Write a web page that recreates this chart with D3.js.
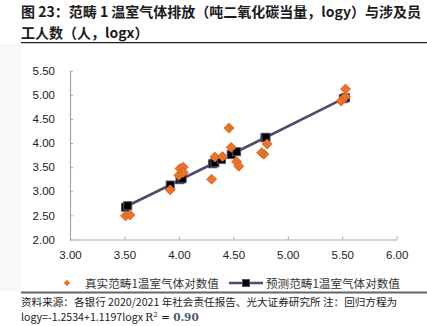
<!DOCTYPE html>
<html><head><meta charset="utf-8">
<script src="https://cdn.jsdelivr.net/npm/d3@7"></script>
<style>html,body{margin:0;padding:0;background:#fff;}svg{display:block;}</style>
</head><body>
<script>
// ---- data ----
const xTicks = [3.00, 3.50, 4.00, 4.50, 5.00, 5.50, 6.00];
const yTicks = [2.00, 2.50, 3.00, 3.50, 4.00, 4.50, 5.00, 5.50];
const actualX = [3.51, 3.55, 3.92, 4.00, 4.01, 4.04, 4.04, 4.30, 4.33, 4.40, 4.46, 4.48, 4.53, 4.55, 4.81, 4.78, 4.76, 5.49, 5.53, 5.53];
const actualY = [2.49, 2.51, 3.03, 3.33, 3.47, 3.50, 3.39, 3.25, 3.71, 3.72, 4.31, 3.91, 3.61, 3.52, 3.98, 3.77, 3.80, 4.87, 4.96, 5.12];
const predX = [3.51, 3.53, 3.92, 4.01, 4.03, 4.31, 4.33, 4.39, 4.48, 4.53, 4.79, 4.80, 5.51, 5.53];
const predY = [2.67, 2.70, 3.13, 3.24, 3.26, 3.57, 3.59, 3.66, 3.76, 3.82, 4.11, 4.12, 4.92, 4.94];
const titleLines = ["图 23：范畴 1 温室气体排放（吨二氧化碳当量，logy）与涉及员", "工人数（人，logx）"];
const legendLabels = ["真实范畴1温室气体对数值", "预测范畴1温室气体对数值"];
const sourceLine1 = "资料来源：各银行 2020/2021 年社会责任报告、光大证券研究所 注：回归方程为";
const sourceLine2 = "logy=-1.2534+1.1197logx ";

const W = 427, H = 326;
const svg = d3.select("body").append("svg").attr("width", W).attr("height", H);
const cjk = "'Noto Sans CJK SC','Noto Sans',sans-serif";
const latin = "'Liberation Sans',Arial,sans-serif";
const serif = "'DejaVu Serif','Liberation Serif',serif";

svg.append("rect").attr("x", 0).attr("y", 44).attr("width", 21).attr("height", 247).attr("fill", "#f8f8f8");

// title
svg.selectAll("text.title").data(titleLines).enter().append("text")
  .attr("x", 21).attr("y", (d, i) => 17 + i * 21)
  .attr("font-family", cjk).attr("font-weight", "bold").attr("font-size", 14)
  .attr("fill", "#1a1a1a").text(d => d);
svg.append("line").attr("x1", 21).attr("x2", 427).attr("y1", 42.7).attr("y2", 42.7)
  .attr("stroke", "#222").attr("stroke-width", 1.3);

// scales
const x = d3.scaleLinear().domain([3, 6]).range([70, 396.7]);
const y = d3.scaleLinear().domain([2, 5.5]).range([239.5, 70.7]);

// axes
const xAxis = svg.append("g").attr("transform", `translate(0,${y(2)})`)
  .call(d3.axisBottom(x).tickValues(xTicks).tickSizeInner(-3).tickSizeOuter(0).tickFormat(d3.format(".2f")));
const yAxis = svg.append("g").attr("transform", `translate(${x(3)},0)`)
  .call(d3.axisLeft(y).tickValues(yTicks).tickSizeInner(-3).tickSizeOuter(0).tickFormat(d3.format(".2f")));
[xAxis, yAxis].forEach(g => {
  g.select(".domain").attr("stroke", "#a6a6a6").attr("stroke-width", 1.2);
  g.selectAll(".tick line").attr("stroke", "#a6a6a6");
  g.selectAll(".tick text").attr("font-family", latin).attr("font-size", 11.5).attr("fill", "#222");
});
xAxis.selectAll(".tick text").attr("y", 11).attr("dy", "0.71em");
yAxis.selectAll(".tick text").attr("x", -15);

// predicted line + squares
const pred = predX.map((v, i) => [v, predY[i]]);
svg.append("path").datum(pred)
  .attr("d", d3.line().x(d => x(d[0])).y(d => y(d[1])))
  .attr("fill", "none").attr("stroke", "#4d4c6e").attr("stroke-width", 2.6);
svg.selectAll("rect.sq").data(pred).enter().append("rect")
  .attr("x", d => x(d[0]) - 4).attr("y", d => y(d[1]) - 4)
  .attr("width", 8).attr("height", 8)
  .attr("fill", "#000").attr("stroke", "#4f4e72").attr("stroke-width", 1);

// actual diamonds
const act = actualX.map((v, i) => [v, actualY[i]]);
const diamond = d3.symbol().type(d3.symbolSquare).size(50);
svg.selectAll("path.dm").data(act).enter().append("path")
  .attr("d", diamond)
  .attr("transform", d => `translate(${x(d[0])},${y(d[1])}) rotate(45)`)
  .attr("fill", "#ea7426").attr("stroke", "#d65f24").attr("stroke-width", 0.8);

// legend
const ly = 283;
svg.append("path").attr("d", d3.symbol().type(d3.symbolSquare).size(20))
  .attr("transform", `translate(67,${ly}) rotate(45)`).attr("fill", "#ea7426");
svg.append("line").attr("x1", 229).attr("x2", 263).attr("y1", ly).attr("y2", ly)
  .attr("stroke", "#4d4c6e").attr("stroke-width", 2.6);
svg.append("rect").attr("x", 242.5).attr("y", ly - 3.5).attr("width", 7).attr("height", 7)
  .attr("fill", "#000").attr("stroke", "#4f4e72").attr("stroke-width", 1);
svg.selectAll("text.leg").data(legendLabels).enter().append("text")
  .attr("x", (d, i) => i === 0 ? 85 : 266).attr("y", ly + 4.5)
  .attr("font-family", cjk).attr("font-size", 11.6).attr("fill", "#333").text(d => d);

// bottom rule + source
svg.append("line").attr("x1", 21).attr("x2", 427).attr("y1", 292.5).attr("y2", 292.5)
  .attr("stroke", "#666").attr("stroke-width", 1.8);
svg.append("text").attr("x", 21).attr("y", 305.5).attr("font-family", cjk).attr("font-size", 10.6)
  .attr("fill", "#1a1a1a").text(sourceLine1);
const t2 = svg.append("text").attr("x", 21).attr("y", 320.5).attr("font-family", cjk).attr("font-size", 10.6).attr("fill", "#1a1a1a");
t2.append("tspan").text(sourceLine2);
t2.append("tspan").attr("font-family", serif).attr("font-size", 10.5).text("R");
t2.append("tspan").attr("font-family", serif).attr("font-size", 7).attr("dy", -4).text("2");
t2.append("tspan").attr("font-family", serif).attr("font-size", 10.5).attr("dy", 4).text(" = ");
t2.append("tspan").attr("font-family", serif).attr("font-size", 10.5).attr("font-weight", "bold").attr("fill", "#4a5a6a").text("0.90");
</script>
</body></html>
